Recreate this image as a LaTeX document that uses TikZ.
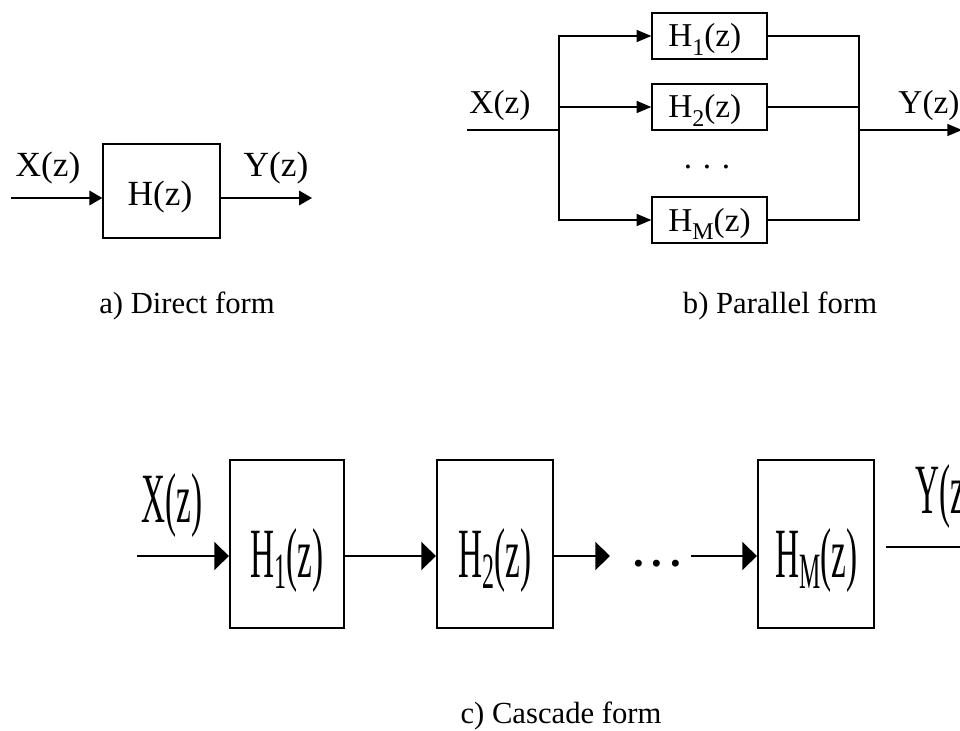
\documentclass[tikz,border=0pt]{standalone}
\usepackage{fontspec}
\setmainfont{Liberation Serif}
\usepackage{graphicx}
\usetikzlibrary{arrows.meta}
\newcommand\mysub[2]{\raisebox{-#1em}{\scalebox{0.72}{#2}}}
\begin{document}
\begin{tikzpicture}[x=0.75pt,y=-0.75pt,
  thinline/.style={line width=1pt},
  thickline/.style={line width=1.6pt},
  dar/.style={thinline,-{Triangle[length=9.75pt,width=11pt]}},
  par/.style={thinline,-{Triangle[length=11pt,width=9pt]}},
  car/.style={thickline,-{Triangle[length=11pt,width=21pt]}},
  dbox/.style={draw,thinline,minimum width=117*0.75pt,minimum height=94*0.75pt,inner sep=0pt},
  pbox/.style={draw,thinline,minimum width=115*0.75pt,minimum height=46*0.75pt,inner sep=0pt},
  cbox/.style={draw,thickline,minimum height=168*0.75pt,inner sep=0pt},
  dtxt/.style={inner sep=0pt,anchor=base,font=\fontsize{26.5pt}{30pt}\selectfont},
  ptxt/.style={inner sep=0pt,anchor=base,font=\fontsize{25pt}{28pt}\selectfont},
  ctxt/.style={inner sep=0pt,anchor=base west,font=\fontsize{53pt}{60pt}\selectfont},
  captxt/.style={inner sep=0pt,anchor=base,font=\fontsize{23pt}{27pt}\selectfont}
]
\useasboundingbox (0,0) rectangle (960,731);

% ---------- a) Direct form ----------
\node[dbox] (h) at (161.5,191) {};
\node[dtxt] (ht) at (160,205) {H(z)};
\coordinate (xin) at (11,198);
\coordinate (yout) at (312,198);
\draw[dar] (xin) -- (xin -| h.west);
\draw[dar] (h.east |- yout) -- (yout);
\node[dtxt] (xa) at (48,177) {X(z)};
\node[dtxt] (ya) at (276,177) {Y(z)};
\node[captxt] (capa) at (187,313) {a) Direct form};

% ---------- b) Parallel form ----------
\node[pbox] (p1) at (709.5,36) {};
\node[pbox] (p2) at (709.5,107) {};
\node[pbox] (pM) at (709.5,220) {};
\node[ptxt,anchor=base west] (p1t) at (668,47) {H\mysub{0.25}{1}(z)};
\node[ptxt,anchor=base west] (p2t) at (668,118) {H\mysub{0.25}{2}(z)};
\node[ptxt,anchor=base west] (pMt) at (668,231) {H\mysub{0.25}{M}(z)};
\node[ptxt] (pdots) at (707,169) {.\hspace{8pt}.\hspace{8pt}.};
\coordinate (pin) at (467,130);
\coordinate (s) at (559,130);
\coordinate (c) at (859,130);
\coordinate (pout) at (962,130);
\draw[thinline] (pin) -- (s);
\draw[par] (s) |- (p1.west);
\draw[par] (s) |- (pM.west);
\draw[par] (s |- p2.west) -- (p2.west);
\draw[thinline] (p1.east) -| (c);
\draw[thinline] (pM.east) -| (c);
\draw[thinline] (p2.east) -- (p2.east -| c);
\draw[par] (c) -- (pout);
\node[ptxt] (xb) at (500,114) {X(z)};
\node[ptxt] (yb) at (929,114) {Y(z)};
\node[captxt] (capb) at (780,313) {b) Parallel form};

% ---------- c) Cascade form ----------
\node[cbox,minimum width=114*0.75pt] (c1) at (287,544) {};
\node[cbox,minimum width=116*0.75pt] (c2) at (495,544) {};
\node[cbox,minimum width=116*0.75pt] (cM) at (816,544) {};
\node[ctxt] (c1t) at (250,577) {\scalebox{0.47}[1]{H\mysub{0.16}{1}(z)}};
\node[ctxt] (c2t) at (458,577) {\scalebox{0.47}[1]{H\mysub{0.16}{2}(z)}};
\node[ctxt] (cMt) at (775,577) {\scalebox{0.47}[1]{H\mysub{0.16}{M}(z)}};
\coordinate (cin) at (137,556);
\coordinate (d1) at (610,556);
\coordinate (d2) at (691,556);
\coordinate (co1) at (886,547);
\coordinate (co2) at (962,547);
\draw[car] (cin) -- (cin -| c1.west);
\draw[car] (c1.east |- cin) -- (c2.west |- cin);
\draw[car] (c2.east |- cin) -- (d1);
\draw[car] (d2) -- (cM.west |- d2);
\draw[thickline] (co1) -- (co2);
\node[inner sep=0pt,anchor=base,font=\fontsize{32pt}{36pt}\selectfont\bfseries] (cdots) at (657,566) {.\hspace{6pt}.\hspace{6pt}.};
\node[ctxt,anchor=base] (xc) at (172,522) {\scalebox{0.47}[1]{X(z)}};
\node[ctxt] (yc) at (915,513) {\scalebox{0.47}[1]{Y(z)}};
\node[captxt] (capc) at (561,723) {c) Cascade form};
\end{tikzpicture}
\end{document}
